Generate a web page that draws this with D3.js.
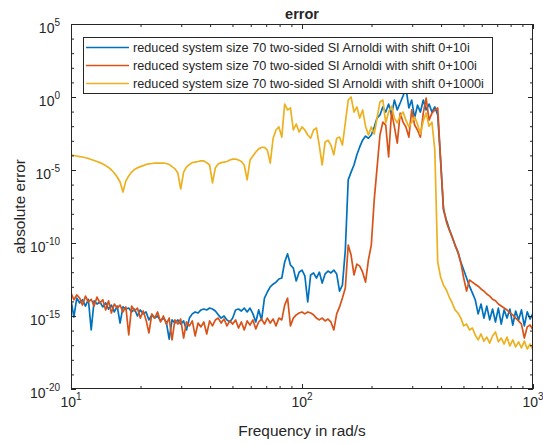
<!DOCTYPE html>
<html lang="en">
<head>
<meta charset="UTF-8">
<title>error</title>
<script src="https://d3js.org/d3.v7.min.js"></script>
<style>
  body { margin: 0; background: #fff; }
  text { font-family: "Liberation Sans", Arial, Helvetica, sans-serif; fill: #262626; }
  .axis path { display: none; }
  .axis line { stroke: #262626; stroke-width: 1px; }
  .series { fill: none; stroke-width: 1.7px; stroke-linejoin: round; }
</style>
</head>
<body>
<div class="canvas"></div>
<script>
  // frequency grid (rad/s), shared by the three error curves
  const freq = [
    10, 10.29, 10.59, 10.9, 11.22, 11.55, 11.89, 12.23, 12.59, 12.96,
    13.34, 13.73, 14.13, 14.54, 14.96, 15.4, 15.85, 16.31, 16.79, 17.28,
    17.78, 18.3, 18.84, 19.39, 19.95, 20.54, 21.13, 21.75, 22.39, 23.04,
    23.71, 24.41, 25.12, 25.85, 26.61, 27.38, 28.18, 29.01, 29.85, 30.73,
    31.62, 32.55, 33.5, 34.47, 35.48, 36.52, 37.58, 38.68, 39.81, 40.97,
    42.17, 43.4, 44.67, 45.97, 47.32, 48.7, 50.12, 51.58, 53.09, 54.64,
    56.23, 57.88, 59.57, 61.31, 63.1, 64.94, 66.83, 68.79, 70.79, 72.86,
    74.99, 77.18, 79.43, 81.75, 84.14, 86.6, 89.13, 91.73, 94.41, 97.16,
    100, 102.9, 105.9, 109, 112.2, 115.5, 118.9, 122.3, 125.9, 129.6,
    133.4, 137.3, 141.3, 145.4, 149.6, 154, 158.5, 163.1, 167.9, 172.8,
    177.8, 183, 188.4, 193.9, 199.5, 205.4, 211.3, 217.5, 223.9, 230.4,
    237.1, 244.1, 251.2, 258.5, 266.1, 273.8, 281.8, 290.1, 298.5, 307.3,
    316.2, 325.5, 335, 344.7, 354.8, 365.2, 375.8, 386.8, 398.1, 409.7,
    421.7, 434, 446.7, 459.7, 473.2, 487, 501.2, 515.8, 530.9, 546.4,
    562.3, 578.8, 595.7, 613.1, 631, 649.4, 668.3, 687.9, 707.9, 728.6,
    749.9, 771.8, 794.3, 817.5, 841.4, 866, 891.3, 917.3, 944.1, 971.6,
    1000
  ];

  // shift 0+10i
  const err10 = [
    1.3e-14, 8.5e-16, 1.7e-14, 7.8e-15, 1.3e-14, 4.8e-15, 1.4e-14, 1.1e-16, 1.1e-14, 6.6e-15,
    9.1e-15, 4.2e-15, 7.8e-15, 3.0e-15, 5.6e-15, 1.9e-15, 4.8e-15, 3.3e-16, 4.2e-15, 3.0e-15,
    3.5e-15, 1.9e-15, 3.0e-15, 1e-15, 2.6e-15, 1.4e-15, 1.9e-15, 5.4e-16, 1.2e-15, 7.2e-16,
    1e-15, 4.6e-16, 7.2e-16, 3.9e-16, 2.6e-17, 5.4e-16, 3.3e-16, 5.4e-16, 2.8e-16, 4.6e-16,
    1.1e-16, 7.2e-16, 1.4e-15, 1.9e-15, 1.6e-15, 2.6e-15, 3.0e-15, 2.6e-15, 3.5e-15, 3.0e-15,
    2.2e-15, 1.2e-15, 7.2e-16, 1e-15, 5.4e-16, 3.9e-16, 7.2e-16, 2.6e-15, 3.0e-15, 2.2e-15,
    3.5e-15, 1.9e-15, 3.5e-15, 1.4e-15, 3.9e-16, 2.6e-15, 5.4e-16, 1.7e-14, 4.4e-14, 9.8e-14,
    1.5e-13, 2.1e-13, 3.4e-13, 4e-13, 5e-12, 1.8e-11, 3.1e-12, 1.9e-12, 2.5e-13, 1e-12,
    1.4e-12, 5.5e-13, 9.1e-15, 6.5e-13, 8.9e-13, 4e-13, 1e-12, 1.8e-13, 7.6e-13, 1.2e-12,
    8.9e-13, 1.4e-12, 7.6e-13, 5.1e-14, 1.3e-13, 3.3e-11, 2.1e-6, 7.2e-6, 2.2e-5, 1.1e-4,
    3.8e-4, 1.1e-3, 2.1e-3, 1.5e-3, 2.5e-3, 8.9e-3, 3.6e-2, 5.9e-2, 0.21, 9.3e-2,
    0.33, 5.9e-2, 0.62, 0.13, 0.39, 1.2, 4.2, 0.18, 0.62, 3.6e-2,
    0.28, 9.3e-2, 0.62, 0.13, 0.33, 9.3e-2, 0.21, 5.9e-2, 4.8e-5, 1.8e-8,
    3.8e-9, 9.1e-10, 2.6e-10, 7.2e-11, 2.4e-11, 5e-12, 1.4e-12, 4e-13, 1.1e-13, 3.8e-14,
    1.3e-14, 1.4e-15, 6.6e-15, 7.2e-16, 4.8e-15, 5.4e-16, 3.0e-15, 3.9e-16, 3.5e-15, 2.8e-16,
    2.6e-15, 7.2e-16, 3.0e-15, 2.4e-16, 2.2e-15, 5.4e-16, 2.6e-15, 2.1e-16, 1.9e-15, 6.2e-16,
    1.6e-15
  ];

  // shift 0+100i
  const err100 = [
    3.8e-14, 1.3e-14, 2.8e-14, 1.7e-14, 5.6e-15, 2.3e-14, 9.1e-15, 1.4e-14, 4.8e-15, 2e-14,
    7.8e-15, 1.3e-14, 2.6e-15, 1.1e-14, 1.6e-15, 6.6e-15, 3.5e-15, 5.6e-15, 1.9e-15, 4.2e-15,
    5e-17, 4.8e-15, 2.2e-15, 3.5e-15, 7.2e-16, 2.2e-15, 5.4e-16, 6.9e-17, 1.4e-15, 7.2e-16,
    1.9e-15, 3.9e-16, 1e-15, 2.8e-16, 7.2e-16, 2.3e-17, 5.4e-16, 2.8e-16, 6.2e-16, 3.1e-17,
    3.9e-16, 2.1e-16, 4.6e-16, 4.3e-17, 3.3e-16, 1.8e-16, 3.9e-16, 5.9e-17, 4.6e-16, 2.1e-16,
    5.4e-16, 7.2e-16, 3.3e-16, 6.2e-16, 2.1e-16, 4.6e-16, 2.8e-16, 5.4e-16, 1.5e-16, 3.9e-16,
    1.1e-16, 4.6e-16, 2.4e-16, 5.4e-16, 1.3e-16, 3.9e-16, 6.2e-16, 2.8e-16, 7.2e-16, 3.3e-16,
    6.2e-16, 2.1e-16, 7.2e-16, 5.4e-16, 5.6e-15, 1.7e-14, 2.1e-16, 7.2e-16, 1.2e-15, 1.6e-15,
    1.9e-15, 1.4e-15, 1.9e-15, 1.6e-15, 1.2e-15, 7.2e-16, 5.4e-16, 7.2e-16, 4.6e-16, 6.2e-16,
    3.9e-16, 1.1e-16, 1.4e-15, 4.2e-15, 1.7e-14, 8.3e-14, 7.2e-11, 1.5e-11, 6.5e-13, 3.6e-12,
    2.6e-12, 1e-12, 2.1e-13, 6.9e-12, 7.2e-11, 8.9e-8, 1.4e-5, 2.5e-3, 1.9e-2, 1.2e-2,
    7.8e-5, 9.3e-2, 8.9e-3, 7e-4, 7.9e-2, 1.9e-2, 8.9e-3, 1.8e-3, 0.13, 1.2e-2,
    5.5e-3, 1.8e-3, 7.9e-2, 0.85, 2.6e-2, 7.9e-2, 0.13, 0.18, 4.8e-5, 2.5e-8,
    2.8e-9, 7.8e-10, 2.6e-10, 7.2e-11, 2.4e-11, 4.3e-12, 4e-13, 5.1e-14, 2.9e-13, 2.1e-13,
    1.5e-13, 1.1e-13, 7.1e-14, 5.1e-14, 3.2e-14, 2.3e-14, 1.4e-14, 1.1e-14, 6.6e-15, 4.8e-15,
    3.5e-15, 2.6e-15, 1.6e-15, 1.2e-15, 7.2e-16, 4.6e-16, 2.8e-16, 3.1e-17, 1.8e-16, 2.4e-16,
    1.1e-16
  ];

  // shift 0+1000i
  const err1000 = [
    1.1e-4, 9.8e-5, 9.1e-5, 8.3e-5, 7.8e-5, 6.9e-5, 6.2e-5, 5.2e-5, 4.5e-5, 3.8e-5,
    3.2e-5, 2.6e-5, 2.0e-5, 1.5e-5, 1e-5, 6.2e-6, 3.3e-6, 1.5e-6, 3.1e-7, 1.8e-6,
    3.9e-6, 7.2e-6, 1.1e-5, 1.4e-5, 1.7e-5, 2.0e-5, 2.4e-5, 2.6e-5, 2.8e-5, 3.0e-5,
    3.0e-5, 3.0e-5, 3.0e-5, 2.8e-5, 2.4e-5, 1.7e-5, 1.2e-5, 6.2e-6, 5e-7, 7.2e-6,
    1.6e-5, 2.4e-5, 3.2e-5, 3.5e-5, 3.8e-5, 4.2e-5, 4.2e-5, 3.2e-5, 2.2e-5, 1.3e-6,
    1.4e-5, 2.6e-5, 3.2e-5, 3.5e-5, 3.8e-5, 4.8e-5, 5.6e-5, 5.6e-5, 4.8e-5, 3.8e-5,
    2.2e-5, 2.1e-6, 4.8e-5, 9.1e-5, 1.7e-4, 2.8e-4, 3.5e-4, 3.5e-4, 2.3e-4, 3.0e-5,
    1.5e-3, 5.5e-3, 8.9e-3, 1.8e-3, 0.33, 0.13, 0.18, 5.5e-3, 1.4e-2, 4e-3,
    8.9e-3, 5.5e-3, 2.5e-3, 1.5e-3, 5.5e-3, 7.6e-3, 4.4e-4, 2.2e-5, 8.3e-4, 1.1e-3,
    5.1e-4, 1.1e-4, 1.5e-3, 1.8e-3, 5.1e-4, 1.7e-2, 0.62, 1, 9.3e-2, 0.21,
    3.6e-2, 0.13, 1e-2, 2.5e-3, 8.9e-3, 2.9e-3, 3.6e-2, 0.46, 0.62, 1.7e-2,
    9.3e-2, 0.24, 3.6e-2, 1.7e-2, 5e-2, 9.3e-2, 2.6e-2, 8.9e-3, 1.9e-2, 4.3e-2,
    1.4e-2, 2.9e-3, 2.3e-2, 7.9e-2, 1e-2, 1.9e-2, 2.3e-4, 5e-12, 4.7e-13, 1.3e-13,
    6e-14, 2e-14, 7.8e-15, 2.6e-15, 1.6e-15, 7.2e-16, 2.1e-16, 2.8e-16, 1.1e-16, 1.5e-16,
    5e-17, 2.3e-17, 5.9e-17, 1.9e-17, 3.6e-17, 1.4e-17, 4.3e-17, 8e-17, 1.7e-17, 3.1e-17,
    1.2e-17, 3.6e-17, 8.9e-18, 2.3e-17, 7.6e-18, 1.7e-17, 6.5e-18, 1.9e-17, 5.5e-18, 1.2e-17,
    4.7e-18
  ];

  const seriesNames = [
    'reduced system size 70 two-sided SI Arnoldi with shift 0+10i',
    'reduced system size 70 two-sided SI Arnoldi with shift 0+100i',
    'reduced system size 70 two-sided SI Arnoldi with shift 0+1000i'
  ];
  const colors = ['#0072BD', '#D95319', '#EDB120'];

  const xMajor = [10, 100, 1000];
  const xMinor = [20, 30, 40, 50, 60, 70, 80, 90, 200, 300, 400, 500, 600, 700, 800, 900];
  const yMajor = [1e-20, 1e-15, 1e-10, 1e-5, 1, 1e5];
  const yMinor = [1e-19, 1e-18, 1e-17, 1e-16, 1e-14, 1e-13, 1e-12, 1e-11, 1e-9, 1e-8, 1e-7, 1e-6,
                  1e-4, 1e-3, 1e-2, 1e-1, 1e1, 1e2, 1e3, 1e4];

  const W = 543, H = 444;
  const mLeft = 71, mRight = 533, mTop = 24, mBottom = 389;

  const x = d3.scaleLog().domain([10, 1000]).range([mLeft, mRight]);
  const y = d3.scaleLog().domain([1e-20, 1e5]).range([mBottom, mTop]);

  const svg = d3.select('.canvas')
    .append('svg')
    .attr('width', W)
    .attr('height', H);

  svg.append('rect').attr('width', W).attr('height', H).attr('fill', '#fff');

  svg.append('clipPath').attr('id', 'plot')
    .append('rect')
    .attr('x', mLeft).attr('y', mTop)
    .attr('width', mRight - mLeft).attr('height', mBottom - mTop);

  const line = d3.line()
    .x(d => x(d[0]))
    .y(d => y(d[1]));

  const g = svg.append('g').attr('clip-path', 'url(#plot)');
  [err10, err100, err1000].forEach((vals, i) => {
    g.append('path')
      .datum(d3.zip(freq, vals))
      .attr('class', 'series')
      .attr('stroke', colors[i])
      .attr('d', line);
  });

  // ticks point inward on all four sides
  function ticks(axis, vals, size, tr) {
    svg.append('g')
      .attr('class', 'axis')
      .attr('transform', tr)
      .call(axis.tickValues(vals).tickSize(size).tickFormat(''));
  }
  ticks(d3.axisBottom(x), xMajor, -5, `translate(0,${mBottom})`);
  ticks(d3.axisBottom(x), xMinor, -3, `translate(0,${mBottom})`);
  ticks(d3.axisTop(x), xMajor, -5, `translate(0,${mTop})`);
  ticks(d3.axisTop(x), xMinor, -3, `translate(0,${mTop})`);
  ticks(d3.axisLeft(y), yMajor, -5, `translate(${mLeft},0)`);
  ticks(d3.axisLeft(y), yMinor, -3, `translate(${mLeft},0)`);
  ticks(d3.axisRight(y), yMajor, -5, `translate(${mRight},0)`);
  ticks(d3.axisRight(y), yMinor, -3, `translate(${mRight},0)`);

  svg.append('rect')
    .attr('x', mLeft + 0.5).attr('y', mTop + 0.5)
    .attr('width', mRight - mLeft - 1).attr('height', mBottom - mTop - 1)
    .attr('fill', 'none').attr('stroke', '#262626').attr('stroke-width', 1);

  // tick labels as 10 with a superscript exponent
  const xl = svg.append('g').selectAll('text')
    .data(xMajor)
    .join('text')
    .attr('x', d => x(d))
    .attr('y', mBottom + 18)
    .attr('text-anchor', 'middle')
    .style('font-size', '14px');
  xl.append('tspan').text('10');
  xl.append('tspan').attr('dy', -7).style('font-size', '10px').text(d => Math.round(Math.log10(d)));

  const yl = svg.append('g').selectAll('text')
    .data(yMajor)
    .join('text')
    .attr('x', mLeft - 11)
    .attr('y', d => y(d) + 9)
    .attr('text-anchor', 'end')
    .style('font-size', '14px');
  yl.append('tspan').text('10');
  yl.append('tspan').attr('dy', -7).style('font-size', '10px').text(d => Math.round(Math.log10(d)));

  svg.append('text')
    .attr('x', (mLeft + mRight) / 2).attr('y', 19)
    .attr('text-anchor', 'middle')
    .style('font-size', '14.5px').style('font-weight', 'bold')
    .text('error');

  svg.append('text')
    .attr('x', (mLeft + mRight) / 2).attr('y', 436)
    .attr('text-anchor', 'middle')
    .style('font-size', '15.4px')
    .text('Frequency in rad/s');

  svg.append('text')
    .attr('transform', `translate(25,${(mTop + mBottom) / 2}) rotate(-90)`)
    .attr('text-anchor', 'middle')
    .style('font-size', '15.4px')
    .text('absolute error');

  // legend
  const lg = svg.append('g');
  lg.append('rect')
    .attr('x', 83.5).attr('y', 37.5).attr('width', 409).attr('height', 56)
    .attr('fill', '#fff').attr('stroke', '#262626').attr('stroke-width', 1);
  seriesNames.forEach((name, i) => {
    const ry = 47.5 + i * 18;
    lg.append('line')
      .attr('x1', 86).attr('x2', 129).attr('y1', ry).attr('y2', ry)
      .attr('stroke', colors[i]).attr('stroke-width', 1.7);
    lg.append('text')
      .attr('x', 133).attr('y', ry + 4.5)
      .style('font-size', '12.7px')
      .text(name);
  });
</script>
</body>
</html>
